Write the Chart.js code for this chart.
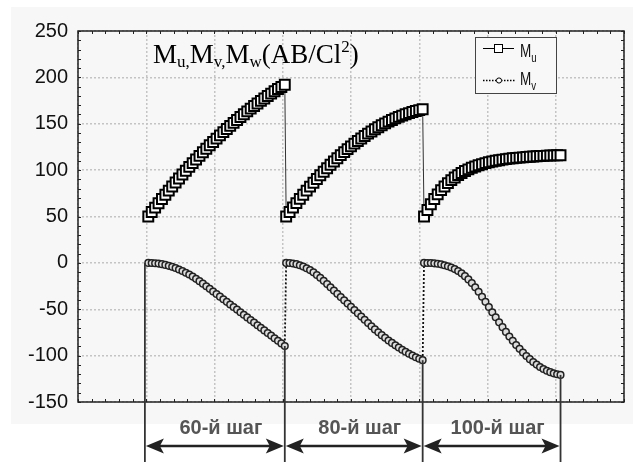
<!DOCTYPE html>
<html>
<head>
<meta charset="utf-8">
<script src="https://cdn.jsdelivr.net/npm/chart.js@4.4.0/dist/chart.umd.min.js"></script>
<style>
  html, body { margin: 0; padding: 0; background: #fff; }
</style>
</head>
<body>
<canvas id="momentChart" width="633" height="465"></canvas>
<script>
// each run is drawn as 41 points, starting at runStart with a fixed step
const runStart = [1.03, 3.05, 5.07];
const runStep = 0.05;

const muRun1 = [50, 54.8, 59.6, 64.3, 68.9, 73.4, 77.9, 82.4, 86.7, 91.0, 95.3, 99.4, 103.5, 107.6, 111.5, 115.4, 119.3, 123.1, 126.8, 130.4, 134.0, 137.5, 141.0, 144.4, 147.7, 150.9, 154.1, 157.3, 160.3, 163.3, 166.3, 169.1, 171.9, 174.7, 177.3, 179.9, 182.5, 185.0, 187.4, 189.7, 192.0];
const muRun2 = [50, 54.9, 59.7, 64.4, 69.0, 73.5, 77.9, 82.2, 86.4, 90.5, 94.5, 98.3, 102.1, 105.8, 109.3, 112.8, 116.2, 119.4, 122.6, 125.6, 128.6, 131.4, 134.1, 136.8, 139.3, 141.7, 144.0, 146.2, 148.4, 150.4, 152.3, 154.1, 155.8, 157.4, 158.8, 160.2, 161.5, 162.7, 163.8, 164.7, 165.6];
const muRun3 = [50, 57.0, 63.2, 68.8, 73.9, 78.4, 82.4, 86.0, 89.2, 92.0, 94.6, 96.9, 99.0, 100.8, 102.5, 103.9, 105.3, 106.4, 107.5, 108.5, 109.3, 110.1, 110.7, 111.3, 111.9, 112.4, 112.8, 113.2, 113.5, 113.8, 114.1, 114.4, 114.7, 115.0, 115.2, 115.4, 115.6, 115.8, 115.9, 116.0, 116.1];

const mvRun1 = [0, -0.1, -0.4, -0.8, -1.4, -2.2, -3.2, -4.3, -5.6, -7.1, -8.8, -10.6, -12.6, -14.8, -17.2, -19.7, -22.4, -25.2, -28.0, -30.8, -33.6, -36.4, -39.2, -42.0, -44.8, -47.6, -50.4, -53.2, -56.0, -58.8, -61.6, -64.4, -67.2, -70.0, -72.8, -75.6, -78.4, -81.2, -84.0, -86.8, -89.6];
const mvRun2 = [0, -0.2, -0.6, -1.4, -2.6, -4.0, -5.8, -7.8, -10.2, -13.0, -16.0, -19.4, -22.9, -26.4, -29.9, -33.4, -36.9, -40.4, -43.9, -47.4, -50.9, -54.4, -57.9, -61.4, -64.9, -68.3, -71.7, -74.8, -77.9, -80.8, -83.7, -86.3, -88.9, -91.3, -93.7, -95.8, -97.9, -99.8, -101.7, -103.3, -104.9];
const mvRun3 = [0, -0.1, -0.2, -0.5, -1.0, -1.6, -2.5, -3.7, -5.0, -6.7, -8.8, -11.3, -14.3, -17.8, -21.8, -26.3, -31.2, -36.5, -42.0, -47.6, -53.2, -58.7, -64.1, -69.3, -74.4, -79.3, -84.0, -88.5, -92.7, -96.7, -100.4, -103.8, -106.9, -109.7, -112.2, -114.4, -116.3, -117.8, -119.1, -120.1, -120.8];

// step brackets under the plot
const stepLabels = ["60-й шаг", "80-й шаг", "100-й шаг"];
const bracketX = [0.98, 3.03, 5.05, 7.07];
const bracketTop = [0, mvRun1[40], mvRun2[40], mvRun3[40]];

function toPoints(runs) {
    const pts = [];
    runs.forEach((run, r) => {
        run.forEach((v, i) => pts.push({ x: runStart[r] + i * runStep, y: v }));
    });
    return pts;
}

// draws text pieces with sub/superscripts, returns end x
function drawPieces(ctx, pieces, x, y, family, sx) {
    pieces.forEach(p => {
        ctx.font = (p.bold ? "bold " : "") + p.size + "px " + family;
        ctx.save();
        ctx.translate(x, y + (p.dy || 0));
        ctx.scale(sx, 1);
        ctx.fillText(p.t, 0, 0);
        ctx.restore();
        x += ctx.measureText(p.t).width * sx;
    });
    return x;
}

function arrowHead(ctx, tipX, y, dir) {
    ctx.beginPath();
    ctx.moveTo(tipX, y);
    ctx.lineTo(tipX + dir * 18, y - 7.5);
    ctx.lineTo(tipX + dir * 14, y);
    ctx.lineTo(tipX + dir * 18, y + 7.5);
    ctx.closePath();
    ctx.fill();
}

const decorPlugin = {
    id: "decor",
    beforeDraw(chart) {
        const ctx = chart.ctx;
        ctx.save();
        ctx.fillStyle = "#ffffff";
        ctx.fillRect(0, 0, chart.width, chart.height);
        ctx.fillStyle = "#f7f7f7";
        ctx.fillRect(11, 7, chart.width - 11, 417);
        ctx.restore();
    },
    afterDraw(chart) {
        const ctx = chart.ctx;
        const a = chart.chartArea;
        const xs = chart.scales.x, ys = chart.scales.y;
        ctx.save();

        // frame
        ctx.strokeStyle = "#222";
        ctx.lineWidth = 1.5;
        ctx.strokeRect(a.left, a.top, a.right - a.left, a.bottom - a.top);

        // minor ticks, pointing inwards
        ctx.lineWidth = 1;
        ctx.beginPath();
        for (let v = 0; v <= 8.001; v += 0.2) {
            const px = Math.round(xs.getPixelForValue(v)) + 0.5;
            ctx.moveTo(px, a.top); ctx.lineTo(px, a.top + 3);
            ctx.moveTo(px, a.bottom); ctx.lineTo(px, a.bottom - 3);
        }
        for (let v = -150; v <= 250; v += 10) {
            const py = Math.round(ys.getPixelForValue(v)) + 0.5;
            ctx.moveTo(a.left, py); ctx.lineTo(a.left + 3, py);
            ctx.moveTo(a.right, py); ctx.lineTo(a.right - 3, py);
        }
        ctx.stroke();

        // title inside the plot
        ctx.fillStyle = "#000";
        ctx.textBaseline = "alphabetic";
        ctx.textAlign = "left";
        drawPieces(ctx, [
            { t: "M", size: 27 }, { t: "u,", size: 17, dy: 4 },
            { t: "M", size: 27 }, { t: "v,", size: 17, dy: 4 },
            { t: "M", size: 27 }, { t: "w", size: 17, dy: 4 },
            { t: "(AB/Cl", size: 27 }, { t: "2", size: 17, dy: -11 },
            { t: ")", size: 27 }
        ], 153, 63, "'Liberation Serif', 'Times New Roman', serif", 1);

        // legend box
        ctx.fillStyle = "#f8f8f8";
        ctx.fillRect(475.5, 37.5, 81, 56);
        ctx.strokeStyle = "#444";
        ctx.lineWidth = 1;
        ctx.strokeRect(475.5, 37.5, 81, 56);

        ctx.strokeStyle = "#000";
        ctx.beginPath();
        ctx.moveTo(483, 48.5); ctx.lineTo(514, 48.5);
        ctx.stroke();
        ctx.fillStyle = "#fff";
        ctx.fillRect(494, 44, 9, 9);
        ctx.strokeRect(494.5, 44.5, 8, 8);

        ctx.setLineDash([1.5, 1.5]);
        ctx.lineWidth = 1.5;
        ctx.beginPath();
        ctx.moveTo(483, 80.5); ctx.lineTo(515, 80.5);
        ctx.stroke();
        ctx.setLineDash([]);
        ctx.lineWidth = 1;
        ctx.beginPath();
        ctx.arc(499, 80.5, 2.6, 0, Math.PI * 2);
        ctx.fill();
        ctx.stroke();

        ctx.fillStyle = "#111";
        const sans = "'Liberation Sans', Arial, sans-serif";
        drawPieces(ctx, [{ t: "M", size: 18 }, { t: "u", size: 13, dy: 5 }], 520, 57, sans, 0.75);
        drawPieces(ctx, [{ t: "M", size: 18 }, { t: "v", size: 13, dy: 5 }], 520, 85, sans, 0.75);

        // step brackets
        const bx = bracketX.map(v => xs.getPixelForValue(v));
        ctx.strokeStyle = "#333";
        ctx.lineWidth = 1.8;
        bx.forEach((px, i) => {
            ctx.beginPath();
            ctx.moveTo(px, ys.getPixelForValue(bracketTop[i]));
            ctx.lineTo(px, 462);
            ctx.stroke();
        });
        const arrowY = 446;
        ctx.strokeStyle = "#222";
        ctx.fillStyle = "#222";
        ctx.lineWidth = 2.5;
        for (let i = 0; i < stepLabels.length; i++) {
            const x1 = bx[i] + 1, x2 = bx[i + 1] - 1;
            ctx.beginPath();
            ctx.moveTo(x1 + 10, arrowY); ctx.lineTo(x2 - 10, arrowY);
            ctx.stroke();
            arrowHead(ctx, x1, arrowY, 1);
            arrowHead(ctx, x2, arrowY, -1);
        }
        ctx.fillStyle = "#555";
        ctx.font = "bold 20px " + sans;
        ctx.textAlign = "center";
        stepLabels.forEach((txt, i) => {
            ctx.fillText(txt, (bx[i] + bx[i + 1]) / 2 + 6, 434);
        });

        ctx.restore();
    }
};

const ctx = document.getElementById("momentChart").getContext("2d");
new Chart(ctx, {
    type: "line",
    data: {
        datasets: [
            {
                label: "Mu",
                data: toPoints([muRun1, muRun2, muRun3]),
                borderColor: "#333",
                borderWidth: 1,
                pointStyle: "rect",
                pointRadius: 7,
                pointBackgroundColor: "#fff",
                pointBorderColor: "#000",
                pointBorderWidth: 2,
                tension: 0,
                fill: false
            },
            {
                label: "Mv",
                data: toPoints([mvRun1, mvRun2, mvRun3]),
                borderColor: "#111",
                borderWidth: 1.8,
                borderDash: [2, 2],
                pointStyle: "circle",
                pointRadius: 3.3,
                pointBackgroundColor: "#ddd",
                pointBorderColor: "#222",
                pointBorderWidth: 1.5,
                tension: 0,
                fill: false
            }
        ]
    },
    options: {
        responsive: false,
        animation: false,
        layout: { padding: { left: 12, right: 3, top: 31, bottom: 63 } },
        plugins: {
            legend: { display: false },
            tooltip: { enabled: false }
        },
        scales: {
            x: {
                type: "linear",
                min: 0,
                max: 8,
                ticks: { display: false, stepSize: 1 },
                grid: { color: "#c4c4c4", lineWidth: 1.5, drawTicks: false },
                border: { display: false, dash: [2, 2] },
                afterFit(scale) { scale.height = 0; }
            },
            y: {
                min: -150,
                max: 250,
                ticks: {
                    stepSize: 50,
                    color: "#111",
                    padding: 10,
                    font: { family: "'Liberation Sans', Arial, sans-serif", size: 20 }
                },
                grid: { color: "#c4c4c4", lineWidth: 1.5, drawTicks: false },
                border: { display: false, dash: [2, 2] },
                afterFit(scale) { scale.width = 66; }
            }
        }
    },
    plugins: [decorPlugin]
});
</script>
</body>
</html>
